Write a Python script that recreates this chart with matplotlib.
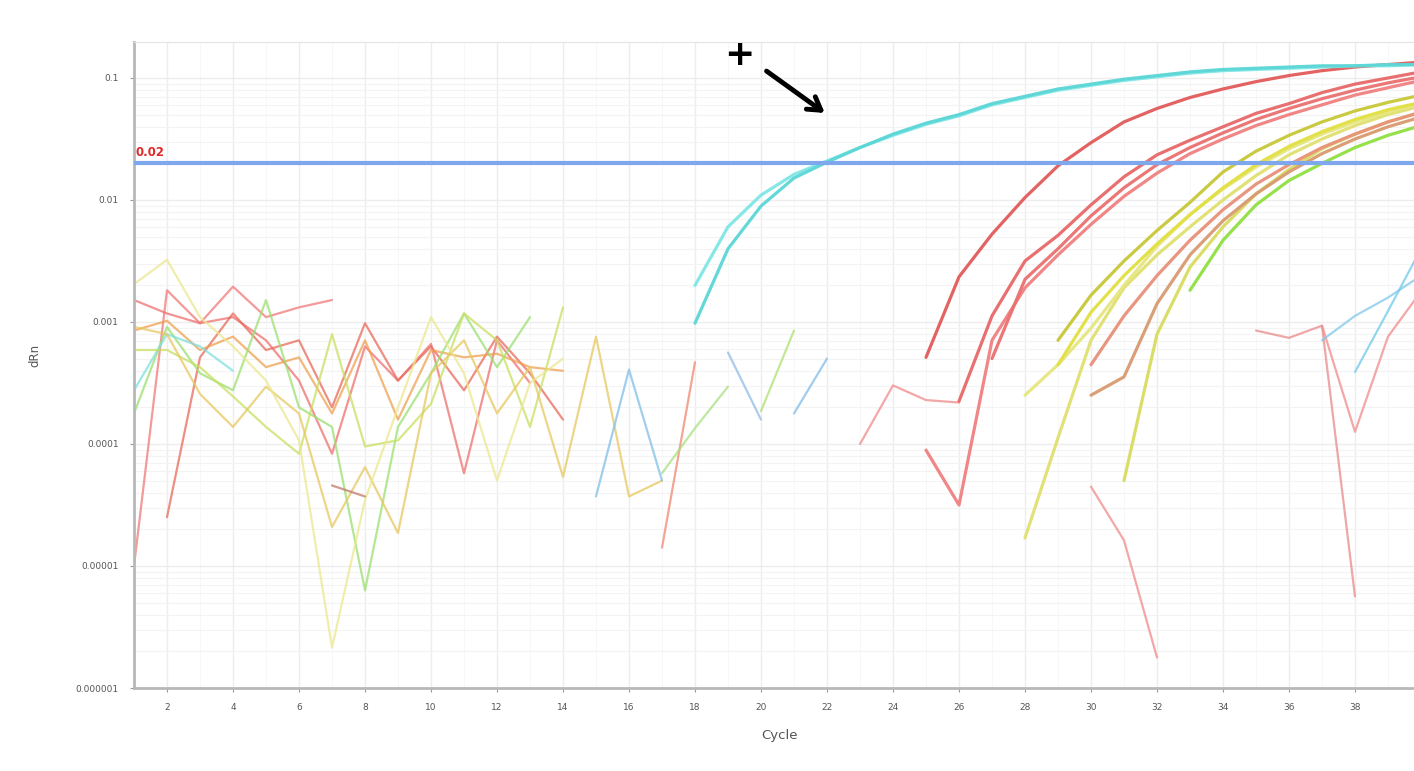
import numpy as np
import matplotlib
matplotlib.use("Agg")
import matplotlib.pyplot as plt
from matplotlib.ticker import FixedLocator, FixedFormatter, LogLocator, NullFormatter

# ---------------- data (log10 of dRn) ----------------
x_ticks = list(range(2, 41, 2))
y_ticks = [1e-6, 1e-5, 1e-4, 1e-3, 1e-2, 1e-1]
y_tick_labels = ["0.000001", "0.00001", "0.0001", "0.001", "0.01", "0.1"]
threshold = 0.02
threshold_label = "0.02"

# early noise series: (start cycle, log10 values per cycle, colour)
noise_salmon_a_start = 1
noise_salmon_a = [-5.0, -2.74, -3.01, -2.71, -2.96, -2.88, -2.82]
noise_red_b_start = 1
noise_red_b = [-2.82, -2.93, -3.01, -2.96, -3.15, -3.48, -4.08, -3.20, -3.48, -3.18, -4.24, -3.15, -3.50]
noise_red_c_start = 2
noise_red_c = [-4.60, -3.29, -2.93, -3.23, -3.15, -3.70, -3.01, -3.48, -3.20, -3.56, -3.12, -3.42, -3.80]
noise_orange_start = 1
noise_orange = [-3.07, -2.99, -3.23, -3.12, -3.37, -3.29, -3.75, -3.15, -3.80, -3.23, -3.29, -3.26, -3.37, -3.40]
noise_green_start = 1
noise_green = [-3.75, -3.04, -3.42, -3.56, -2.82, -3.70, -3.86, -5.20, -3.86, -3.42, -2.93, -3.37, -2.96]
noise_cyan_start = 1
noise_cyan = [-3.56, -3.10, -3.20, -3.40]
noise_lime_start = 1
noise_lime = [-3.23, -3.23, -3.37, -3.61, -3.86, -4.08, -3.10, -4.02, -3.97, -3.67, -2.93, -3.15, -3.86, -2.88]
noise_gold_start = 1
noise_gold = [-3.04, -3.10, -3.59, -3.86, -3.53, -3.75, -4.68, -4.19, -4.73, -3.42, -3.15, -3.75, -3.37,
              -4.27, -3.12, -4.43, -4.30]
noise_paleyel_start = 1
noise_paleyel = [-2.69, -2.49, -2.96, -3.20, -3.48, -3.97, -5.67, -4.46, -3.70, -2.96, -3.42, -4.30, -3.50, -3.30]
noise_brown_start = 7
noise_brown = [-4.34, -4.43]
noise_blue_start = 15
noise_blue = [-4.43, -3.39, -4.30]
noise_red_d_start = 17
noise_red_d = [-4.85, -3.33]
noise_green_b_start = 17
noise_green_b = [-4.24, -3.87, -3.53]
noise_blue_b_start = 19
noise_blue_b = [-3.25, -3.80]
noise_green_c_start = 20
noise_green_c = [-3.73, -3.07]
noise_blue_c_start = 21
noise_blue_c = [-3.75, -3.30]
noise_red_e_start = 23
noise_red_e = [-4.00, -3.52, -3.64, -3.66]
noise_red_f_start = 30
noise_red_f = [-4.35, -4.79, -5.75]
noise_red_g_start = 35
noise_red_g = [-3.07, -3.13, -3.03, -5.25]
noise_red_h_start = 37
noise_red_h = [-3.03, -3.90, -3.12, -2.75]
noise_blue_d_start = 37
noise_blue_d = [-3.15, -2.95, -2.80, -2.62]
noise_blue_e_start = 38
noise_blue_e = [-3.41, -2.91, -2.40]

# amplification curves
cyan1_start = 18
cyan1 = [-3.01, -2.40, -2.05, -1.82, -1.69, -1.57, -1.46, -1.37, -1.30, -1.21, -1.15, -1.09, -1.05,
         -1.01, -0.98, -0.95, -0.93, -0.92, -0.91, -0.90, -0.90, -0.89, -0.89]
cyan2_start = 18
cyan2 = [-2.70, -2.22, -1.96, -1.79, -1.68, -1.57, -1.47, -1.38, -1.31, -1.22, -1.16, -1.10, -1.06,
         -1.02, -0.99, -0.96, -0.94, -0.93, -0.92, -0.91, -0.90, -0.90, -0.89]
red1_start = 25
red1 = [-3.29, -2.63, -2.28, -1.98, -1.72, -1.53, -1.36, -1.25, -1.16, -1.09, -1.03, -0.98, -0.94,
        -0.91, -0.89, -0.87]
red2_start = 26
red2 = [-3.65, -2.95, -2.50, -2.29, -2.04, -1.81, -1.63, -1.51, -1.40, -1.29, -1.21, -1.12, -1.05, -1.00, -0.95]
red3_start = 27
red3 = [-3.30, -2.65, -2.40, -2.13, -1.90, -1.71, -1.57, -1.45, -1.34, -1.25, -1.17, -1.10, -1.04, -0.99]
red4_start = 25
red4 = [-4.05, -4.50, -3.15, -2.72, -2.45, -2.20, -1.97, -1.78, -1.62, -1.50, -1.39, -1.30, -1.22,
        -1.14, -1.08, -1.02]
yel1_start = 29
yel1 = [-3.15, -2.78, -2.50, -2.25, -2.02, -1.77, -1.60, -1.47, -1.36, -1.27, -1.20, -1.14]
yel2_start = 29
yel2 = [-3.35, -2.92, -2.62, -2.36, -2.12, -1.90, -1.71, -1.56, -1.44, -1.34, -1.26, -1.20]
yel3_start = 28
yel3 = [-4.77, -3.95, -3.15, -2.72, -2.45, -2.22, -2.00, -1.80, -1.63, -1.50, -1.39, -1.30, -1.23]
yel4_start = 31
yel4 = [-4.30, -3.10, -2.55, -2.22, -1.95, -1.75, -1.58, -1.46, -1.36, -1.28]
yel5_start = 28
yel5 = [-3.60, -3.35, -3.05, -2.70, -2.38, -2.12, -1.91, -1.73, -1.58, -1.46, -1.36, -1.28, -1.21]
green1_start = 33
green1 = [-2.74, -2.33, -2.04, -1.84, -1.70, -1.57, -1.47, -1.39]
orange1_start = 30
orange1 = [-3.35, -2.95, -2.62, -2.33, -2.08, -1.87, -1.71, -1.57, -1.46, -1.36, -1.28]
orange2_start = 30
orange2 = [-3.60, -3.45, -2.85, -2.45, -2.17, -1.95, -1.77, -1.62, -1.50, -1.40, -1.32]

noise_series = [
    (noise_salmon_a_start, noise_salmon_a, "#f07878"),
    (noise_red_b_start, noise_red_b, "#ee7070"),
    (noise_red_c_start, noise_red_c, "#e86a5a"),
    (noise_orange_start, noise_orange, "#f0a050"),
    (noise_green_start, noise_green, "#9be070"),
    (noise_cyan_start, noise_cyan, "#7fe0e0"),
    (noise_lime_start, noise_lime, "#c8e060"),
    (noise_gold_start, noise_gold, "#e8c860"),
    (noise_paleyel_start, noise_paleyel, "#ece890"),
    (noise_brown_start, noise_brown, "#c07a6a"),
    (noise_blue_start, noise_blue, "#80c0e8"),
    (noise_red_d_start, noise_red_d, "#f08870"),
    (noise_green_b_start, noise_green_b, "#a8e080"),
    (noise_blue_b_start, noise_blue_b, "#90bce8"),
    (noise_green_c_start, noise_green_c, "#b0e070"),
    (noise_blue_c_start, noise_blue_c, "#80bce8"),
    (noise_red_e_start, noise_red_e, "#f08a8a"),
    (noise_red_f_start, noise_red_f, "#f08a8a"),
    (noise_red_g_start, noise_red_g, "#e88a8a"),
    (noise_red_h_start, noise_red_h, "#f08a8a"),
    (noise_blue_d_start, noise_blue_d, "#80c8ea"),
    (noise_blue_e_start, noise_blue_e, "#70c8ec"),
]
amp_series = [
    (yel3_start, yel3, "#e0e070"),
    (yel5_start, yel5, "#e6e680"),
    (yel4_start, yel4, "#d8dc60"),
    (orange2_start, orange2, "#d89a70"),
    (orange1_start, orange1, "#e8907a"),
    (green1_start, green1, "#90e040"),
    (yel2_start, yel2, "#e2e040"),
    (yel1_start, yel1, "#c8c838"),
    (red4_start, red4, "#f08080"),
    (red3_start, red3, "#ea7070"),
    (red2_start, red2, "#e86868"),
    (red1_start, red1, "#e25a5a"),
    (cyan2_start, cyan2, "#80e6e6"),
    (cyan1_start, cyan1, "#5cd6d6"),
]

# ---------------- figure ----------------
W, H = 1414, 771
fig = plt.figure(figsize=(W / 100, H / 100), dpi=100)
fig.patch.set_facecolor("white")
ax = fig.add_axes([134 / W, (H - 688) / H, (1454 - 134) / W, (688 - 42) / H])
ax.set_yscale("log")
ax.set_xlim(1, 41)
ax.set_ylim(1e-6, 10 ** -0.705)

# grid
ax.yaxis.set_major_locator(FixedLocator(y_ticks))
ax.yaxis.set_major_formatter(FixedFormatter(y_tick_labels))
ax.yaxis.set_minor_locator(LogLocator(base=10, subs=np.arange(2, 10)))
ax.yaxis.set_minor_formatter(NullFormatter())
ax.xaxis.set_major_locator(FixedLocator(x_ticks))
ax.xaxis.set_minor_locator(FixedLocator(list(range(1, 42))))
ax.grid(True, which="major", color="#ededed", lw=1.0)
ax.grid(True, which="minor", axis="y", color="#f3f3f3", lw=0.8)
ax.grid(True, which="minor", axis="x", color="#f6f6f6", lw=0.6)
ax.set_axisbelow(True)

for s, vals, col in noise_series:
    xs = np.arange(s, s + len(vals))
    ax.plot(xs, 10 ** np.array(vals), color=col, lw=1.6, alpha=0.75, solid_capstyle="round")

for s, vals, col in amp_series:
    xs = np.arange(s, s + len(vals))
    ax.plot(xs, 10 ** np.array(vals), color=col, lw=2.3, alpha=0.95, solid_capstyle="round")

# threshold
ax.axhline(threshold, color="#7fa8ec", lw=3.0, zorder=5)
ax.text(1.05, threshold * 1.08, threshold_label, color="#e02828", fontsize=8.5,
        fontweight="bold", ha="left", va="bottom", zorder=6)

# annotation "+" and arrow
ax.text(19.35, 10 ** -0.81, "+", fontsize=26, fontweight="bold", color="black",
        ha="center", va="center", zorder=7)
ax.annotate("", xy=(22.0, 10 ** -1.30), xytext=(20.1, 10 ** -0.93),
            arrowprops=dict(arrowstyle="->,head_length=0.9,head_width=0.55", lw=3.5,
                            color="black"), zorder=7)

# spines and ticks
ax.spines["right"].set_visible(False)
ax.spines["top"].set_color("#e4e4e4")
ax.spines["left"].set_color("#b8b8b8")
ax.spines["bottom"].set_color("#b8b8b8")
ax.spines["left"].set_linewidth(2)
ax.spines["bottom"].set_linewidth(2)
ax.tick_params(axis="both", which="major", length=3, color="#999999", labelsize=6.5,
               labelcolor="#555555")
ax.tick_params(axis="both", which="minor", length=0)
ax.tick_params(axis="y", pad=8)
ax.tick_params(axis="x", pad=8)

fig.text(35 / W, 1 - 355 / H, "dRn", rotation=90, fontsize=8.5, color="#555555",
         ha="center", va="center")
fig.text(780 / W, 1 - 736 / H, "Cycle", fontsize=9.5, color="#555555",
         ha="center", va="center")

fig.savefig("out.png", dpi=100, facecolor="white")
